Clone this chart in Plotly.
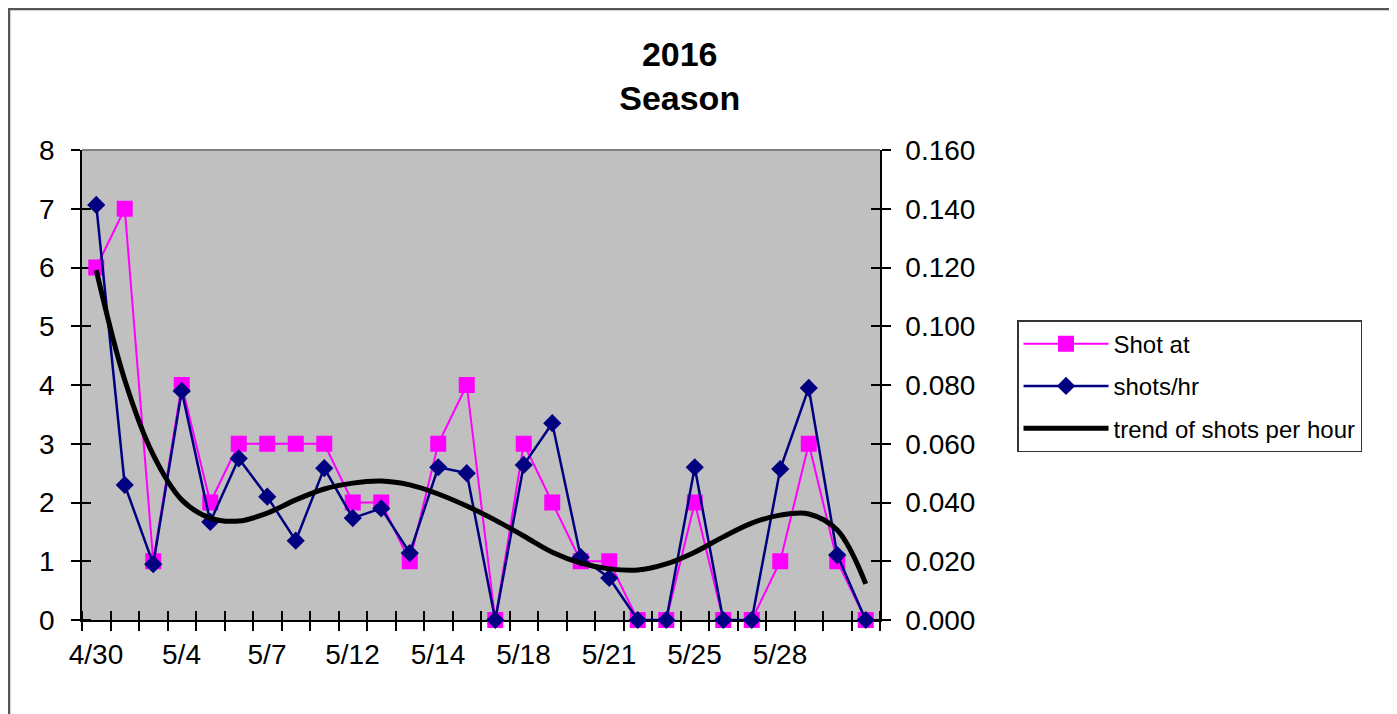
import plotly.graph_objects as go

# ---- data ----
categories = ["4/30", "5/1", "5/2", "5/4", "5/5", "5/6", "5/7", "5/9", "5/11", "5/12",
              "5/13", "5/13", "5/14", "5/15", "5/17", "5/18", "5/19", "5/20", "5/21", "5/22",
              "5/24", "5/25", "5/26", "5/27", "5/28", "5/29", "5/30", "5/31"]
shot_at = [6, 7, 1, 4, 2, 3, 3, 3, 3, 2, 2, 1, 3, 4, 0, 3, 2, 1, 1, 0, 0, 2, 0, 0, 1, 3, 1, 0]
shots_per_hr = [0.1413, 0.0460, 0.0190, 0.0780, 0.0334, 0.0550, 0.0420, 0.0270, 0.0517, 0.0347,
                0.0380, 0.0228, 0.0520, 0.0500, 0.0000, 0.0528, 0.0670, 0.0214, 0.0143, 0.0000,
                0.0000, 0.0520, 0.0000, 0.0000, 0.0514, 0.0790, 0.0221, 0.0000]
trend_shots_per_hr = [0.1191, 0.0817, 0.0562, 0.0409, 0.0347, 0.0337, 0.0364, 0.0409, 0.0446, 0.0466,
                      0.0473, 0.0460, 0.0429, 0.0388, 0.0340, 0.0286, 0.0231, 0.0194, 0.0174, 0.0170,
                      0.0191, 0.0231, 0.0283, 0.0330, 0.0357, 0.0361, 0.0306, 0.0123]
left_ticks = [0, 1, 2, 3, 4, 5, 6, 7, 8]
right_ticks = [0.0, 0.02, 0.04, 0.06, 0.08, 0.10, 0.12, 0.14, 0.16]
label_every = 3
last_labelled = 24

# ---- build ----
n = len(categories)
x = list(range(n))
boundaries = [i - 0.5 for i in range(n + 1)]
tick_text = [categories[i] if (i <= last_labelled and i % label_every == 0) else ""
             for i in range(n + 1)]
eps = 1e-7
FONT = "Liberation Sans, Arial, sans-serif"

fig = go.Figure()
fig.add_trace(go.Scatter(
    x=x, y=shot_at, name="Shot at", mode="lines+markers", yaxis="y",
    line=dict(color="#FF00FF", width=2),
    marker=dict(symbol="square", size=16, color="#FF00FF"),
    cliponaxis=False, legendgroup="a"))
fig.add_trace(go.Scatter(
    x=x, y=shots_per_hr, name="shots/hr", mode="lines+markers", yaxis="y2",
    line=dict(color="#000080", width=2.5),
    marker=dict(symbol="diamond", size=14, color="#000080"),
    cliponaxis=False, legendgroup="b"))
fig.add_trace(go.Scatter(
    x=x, y=trend_shots_per_hr, name="trend of shots per hour", mode="lines", yaxis="y2",
    line=dict(color="black", width=5, shape="spline", smoothing=1.0),
    cliponaxis=False, legendgroup="c"))

tick_common = dict(ticks="outside", ticklen=9, tickwidth=1.5, tickcolor="black",
                   showline=True, linecolor="black", linewidth=1.5,
                   showgrid=False, zeroline=False, layer="below traces",
                   tickfont=dict(size=28, color="black", family=FONT))

fig.update_layout(
    width=1389, height=706,
    margin=dict(l=74, r=517, t=142, b=94),
    paper_bgcolor="white", plot_bgcolor="#C0C0C0",
    font=dict(family=FONT, color="black"),
    title=dict(text="<b>2016<br>Season</b>", x=0.749, xref="paper", xanchor="center",
               y=0.918, yref="container", yanchor="top",
               font=dict(size=34, family=FONT, color="black")),
    xaxis=dict(range=[-0.5, n - 0.5], tickmode="array", tickvals=boundaries, ticktext=tick_text,
               ticklabelshift=14, ticklabelstandoff=0,
               minor=dict(tickmode="array", tickvals=[b + eps for b in boundaries],
                          ticks="inside", ticklen=9, tickwidth=1.5, tickcolor="black", showgrid=False),
               **tick_common),
    yaxis=dict(range=[0, 8], tickmode="array", tickvals=left_ticks,
               ticklabelstandoff=11,
               minor=dict(tickmode="array", tickvals=[v + eps for v in left_ticks],
                          ticks="inside", ticklen=9, tickwidth=1.5, tickcolor="black", showgrid=False),
               **tick_common),
    yaxis2=dict(range=[0, 0.16], overlaying="y", side="right", anchor="x",
                tickmode="array", tickvals=right_ticks, tickformat=".3f",
                ticklabelstandoff=9,
                minor=dict(tickmode="array", tickvals=[v + eps * 0.02 for v in right_ticks],
                           ticks="inside", ticklen=9, tickwidth=1.5, tickcolor="black", showgrid=False),
                **tick_common),
    legend=dict(x=1.1717, y=0.638, xanchor="left", yanchor="top",
                bgcolor="white", bordercolor="#333333", borderwidth=1.5,
                font=dict(size=24, family=FONT, color="black"),
                tracegroupgap=8, itemwidth=85),
    shapes=[
        dict(type="line", xref="paper", yref="paper", x0=0, x1=1, y0=1, y1=1,
             line=dict(color="#808080", width=2)),
        dict(type="rect", xref="paper", yref="paper",
             x0=-73.0 / 798, x1=1.66, y0=-0.25, y1=1 + 141.0 / 470,
             line=dict(color="#555555", width=2.5), fillcolor="rgba(0,0,0,0)", layer="below"),
    ],
)

fig.write_html("out.html")
